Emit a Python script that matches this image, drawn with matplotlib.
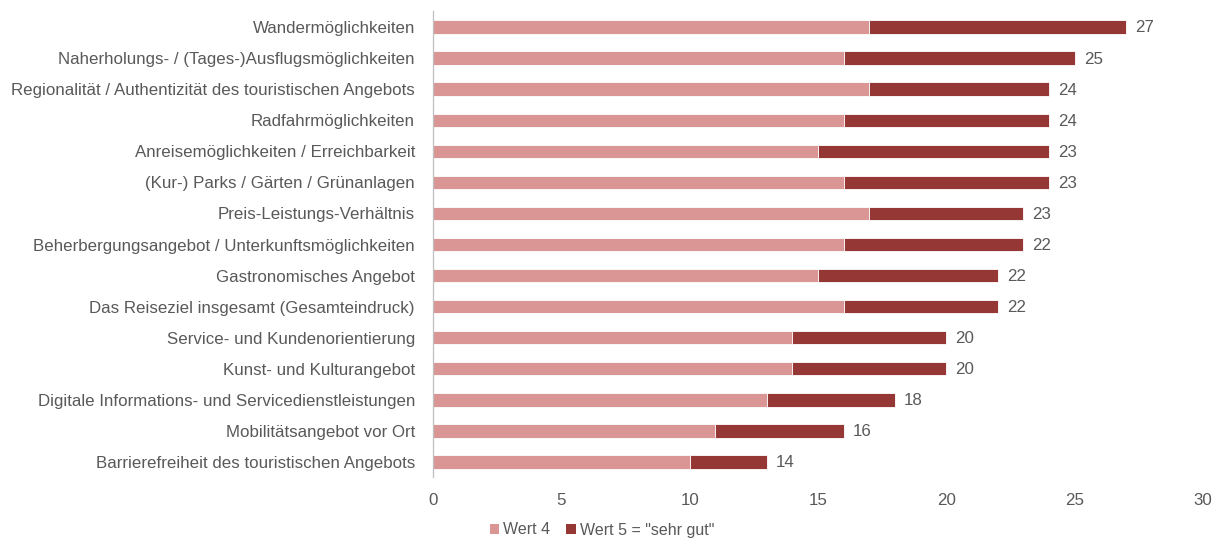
import matplotlib
matplotlib.use("Agg")
import matplotlib.pyplot as plt
from matplotlib.patches import Patch

categories = [
    "Wandermöglichkeiten",
    "Naherholungs- / (Tages-)Ausflugsmöglichkeiten",
    "Regionalität / Authentizität des touristischen Angebots",
    "Radfahrmöglichkeiten",
    "Anreisemöglichkeiten / Erreichbarkeit",
    "(Kur-) Parks / Gärten / Grünanlagen",
    "Preis-Leistungs-Verhältnis",
    "Beherbergungsangebot / Unterkunftsmöglichkeiten",
    "Gastronomisches Angebot",
    "Das Reiseziel insgesamt (Gesamteindruck)",
    "Service- und Kundenorientierung",
    "Kunst- und Kulturangebot",
    "Digitale Informations- und Servicedienstleistungen",
    "Mobilitätsangebot vor Ort",
    "Barrierefreiheit des touristischen Angebots",
]
wert4 = [17, 16, 17, 16, 15, 16, 17, 16, 15, 16, 14, 14, 13, 11, 10]
wert5 = [10, 9, 7, 8, 9, 8, 6, 7, 7, 6, 6, 6, 5, 5, 3]
totals = [27, 25, 24, 24, 23, 23, 23, 22, 22, 22, 20, 20, 18, 16, 14]
xticks = [0, 5, 10, 15, 20, 25, 30]

plt.rcParams["font.family"] = ["Liberation Sans", "DejaVu Sans"]
text_color = "#595959"
c4 = "#DA9694"
c5 = "#953735"
fs = 12.2

fig = plt.figure(figsize=(12.16, 5.39), dpi=100)
ax = fig.add_axes([433 / 1216, 1 - 477.5 / 539, (1203 - 433) / 1216, (477.5 - 11.5) / 539])

y = list(range(len(categories)))
ax.barh(y, wert4, height=0.43, color=c4, edgecolor="white", linewidth=0.6)
ax.barh(y, wert5, left=wert4, height=0.43, color=c5, edgecolor="white", linewidth=0.6)
for yi, a, b, t in zip(y, wert4, wert5, totals):
    ax.text(a + b + 0.35, yi + 0.03, str(t), va="center", ha="left", fontsize=fs, color=text_color)

ax.set_ylim(len(categories) - 0.5, -0.5)
ax.set_xlim(0, 30)
ax.set_yticks(y)
ax.set_yticklabels(categories, fontsize=fs, color=text_color)
ax.set_xticks(xticks)
ax.set_xticklabels([str(v) for v in xticks], fontsize=fs, color=text_color)
ax.tick_params(axis="both", length=0)
ax.tick_params(axis="x", pad=11)
ax.tick_params(axis="y", pad=13)
for name, s in ax.spines.items():
    s.set_visible(name == "left")
ax.spines["left"].set_color("#BFBFBF")
ax.spines["left"].set_linewidth(0.9)
ax.spines["left"].set_zorder(3)

handles = [Patch(facecolor=c4, label="Wert 4"), Patch(facecolor=c5, label='Wert 5 = "sehr gut"')]
fig.legend(handles=handles, loc="center", bbox_to_anchor=(602 / 1216, 1 - 530 / 539), ncol=2,
           frameon=False, fontsize=11.5, handlelength=0.6, handleheight=0.6,
           handletextpad=0.25, columnspacing=1.0, labelcolor=text_color)

fig.savefig("out.png", dpi=100)
